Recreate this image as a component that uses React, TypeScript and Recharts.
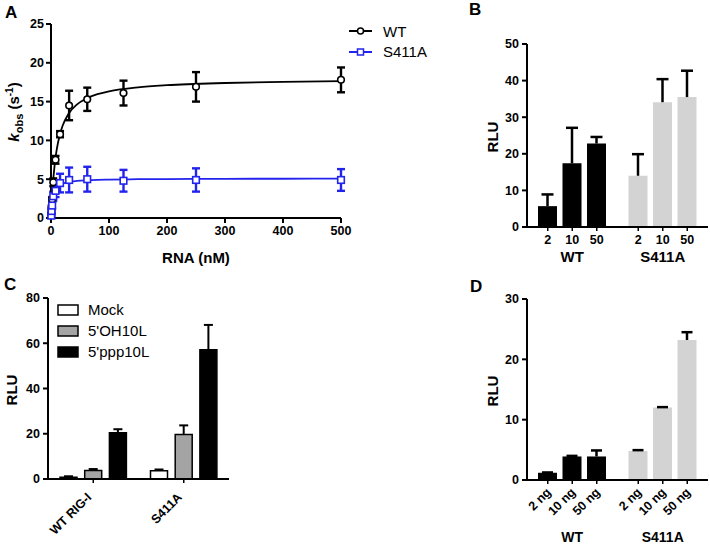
import React from "react"
import { Bar, BarChart, Cell, ComposedChart, ErrorBar, Legend, Line, Scatter, XAxis, YAxis } from "recharts"

const FONT = "'Liberation Sans', Arial, Helvetica, sans-serif"
const BLUE = "#2323ee"

// A: k_obs vs RNA concentration
const rnaConc = [0.49, 0.98, 1.95, 3.9, 7.8, 15.6, 31.25, 62.5, 125, 250, 500]
const kobsWT = [0.5, 1.3, 2.4, 4.6, 7.5, 10.8, 14.5, 15.3, 16.1, 16.9, 17.8]
const kobsWTErr = [0.2, 0.3, 0.3, 0.5, 0.5, 0.4, 1.9, 1.5, 1.6, 1.9, 1.6]
const kobsS411A = [0.3, 0.9, 1.6, 2.8, 3.5, 4.5, 4.9, 5.0, 4.8, 4.9, 4.9]
const kobsS411AErr = [0.2, 0.3, 0.4, 0.6, 0.8, 1.2, 1.6, 1.6, 1.4, 1.5, 1.4]
// fitted hyperbolas
const fitConc = [0, 2, 4, 6, 8, 10, 15, 20, 30, 45, 60, 80, 100, 150, 200, 300, 400, 500]
const fitWT = [0, 2.93, 5.03, 6.63, 7.87, 8.87, 10.67, 11.88, 13.4, 14.65, 15.36, 15.95, 16.32, 16.84, 17.12, 17.4, 17.55, 17.64]
const fitS411A = [0, 2.04, 2.91, 3.4, 3.71, 3.92, 4.25, 4.43, 4.64, 4.78, 4.86, 4.92, 4.95, 5.0, 5.02, 5.05, 5.06, 5.07]

// B: RLU by dose
const bDoses = ["2", "10", "50"]
const bGroups = ["WT", "S411A"]
const bWT = [5.7, 17.4, 22.8]
const bWTErr = [3.2, 9.7, 1.8]
const bS411A = [14.0, 34.1, 35.5]
const bS411AErr = [5.9, 6.3, 7.2]

// C: RLU by RNA ligand
const cGroups = ["WT RIG-I", "S411A"]
const cTreatments = ["Mock", "5'OH10L", "5'ppp10L"]
const cMock = [0.8, 3.7]
const cMockErr = [0.4, 0.5]
const cOH = [3.8, 19.7]
const cOHErr = [0.6, 4.0]
const cPPP = [20.4, 57.1]
const cPPPErr = [1.6, 11.0]

// D: RLU by plasmid amount
const dDoses = ["2 ng", "10 ng", "50 ng"]
const dGroups = ["WT", "S411A"]
const dWT = [1.2, 3.9, 3.9]
const dWTErr = [0.05, 0.1, 1.0]
const dS411A = [4.8, 12.0, 23.2]
const dS411AErr = [0.15, 0.08, 1.3]

const groupColors = ["#000000", "#d3d3d3"]
const cColors = ["#ffffff", "#a4a4a4", "#000000"]

const tickStyle = { fill: "#000", fontSize: 12.5, fontWeight: "bold", fontFamily: FONT }
const axisProps = { stroke: "#000", strokeWidth: 2 }

const BAR_W = 19
const BAR_GAP = 5.5

function buildRows(groups: string[], vals: number[][], errs: number[][]) {
  return groups.map((g, gi) => {
    const row: any = { g }
    vals[gi].forEach((v, i) => {
      row["v" + i] = v
      row["e" + i] = [0, errs[gi][i]]
    })
    return row
  })
}

const dataA_WT = rnaConc.map((x, i) => ({ x, y: kobsWT[i], e: kobsWTErr[i] }))
const dataA_S = rnaConc.map((x, i) => ({ x, y: kobsS411A[i], e: kobsS411AErr[i] }))
const fitA_WT = fitConc.map((x, i) => ({ x, y: fitWT[i] }))
const fitA_S = fitConc.map((x, i) => ({ x, y: fitS411A[i] }))

const dataB = buildRows(bGroups, [bWT, bS411A], [bWTErr, bS411AErr])
const dataC = cGroups.map((g, i) => ({
  g,
  v0: cMock[i], e0: [0, cMockErr[i]],
  v1: cOH[i], e1: [0, cOHErr[i]],
  v2: cPPP[i], e2: [0, cPPPErr[i]],
}))
const dataD = buildRows(dGroups, [dWT, dS411A], [dWTErr, dS411AErr])

const OpenCircle = (p: any) => (
  <circle cx={p.cx} cy={p.cy} r={3.3} fill="#fff" stroke="#000" strokeWidth={1.6} />
)
const OpenSquare = (p: any) => (
  <rect x={p.cx - 3.3} y={p.cy - 3.3} width={6.6} height={6.6} fill="#fff" stroke={BLUE} strokeWidth={1.6} />
)

const legendA = () => (
  <div style={{ fontFamily: FONT, fontSize: 15, color: "#000" }}>
    {[
      { name: "WT", color: "#000", square: false },
      { name: "S411A", color: BLUE, square: true },
    ].map((s) => (
      <div key={s.name} style={{ display: "flex", alignItems: "center", height: 20.6 }}>
        <svg width={26} height={12}>
          <line x1={1} y1={6} x2={24} y2={6} stroke={s.color} strokeWidth={2} />
          {s.square ? (
            <rect x={9.5} y={3} width={6} height={6} fill="#fff" stroke={s.color} strokeWidth={1.5} />
          ) : (
            <circle cx={12.5} cy={6} r={3} fill="#fff" stroke={s.color} strokeWidth={1.5} />
          )}
        </svg>
        <span style={{ marginLeft: 9 }}>{s.name}</span>
      </div>
    ))}
  </div>
)

const legendC = () => (
  <div style={{ fontFamily: FONT, fontSize: 15, color: "#000" }}>
    {cTreatments.map((t, i) => (
      <div key={t} style={{ display: "flex", alignItems: "center", height: 21.2 }}>
        <svg width={22} height={12}>
          <rect x={1} y={1} width={20} height={10} fill={cColors[i]} stroke="#000" strokeWidth={1.5} />
        </svg>
        <span style={{ marginLeft: 9 }}>{t}</span>
      </div>
    ))}
  </div>
)

const DoseTickB = ({ x, y, payload }: any) => (
  <g>
    {bDoses.map((d, i) => {
      const cx = x + (i - 1) * (BAR_W + BAR_GAP)
      return (
        <g key={d}>
          <line x1={cx} x2={cx} y1={y} y2={y + 4} stroke="#000" strokeWidth={1.5} />
          <text x={cx} y={y + 17} textAnchor="middle" style={tickStyle}>{d}</text>
        </g>
      )
    })}
    <text x={x} y={y + 35} textAnchor="middle" style={{ ...tickStyle, fontSize: 15 }}>{payload.value}</text>
  </g>
)

const DoseTickD = ({ x, y, payload }: any) => (
  <g>
    {dDoses.map((d, i) => {
      const cx = x + (i - 1) * (BAR_W + BAR_GAP)
      return (
        <g key={d}>
          <line x1={cx} x2={cx} y1={y} y2={y + 4} stroke="#000" strokeWidth={1.5} />
          <text x={cx + 4} y={y + 13} transform={`rotate(-45, ${cx + 4}, ${y + 13})`} textAnchor="end" style={tickStyle}>{d}</text>
        </g>
      )
    })}
    <text x={x} y={y + 62} textAnchor="middle" style={{ ...tickStyle, fontSize: 14 }}>{payload.value}</text>
  </g>
)

const GroupTickC = ({ x, y, payload }: any) => (
  <g>
    <line x1={x} x2={x} y1={y} y2={y + 4} stroke="#000" strokeWidth={1.5} />
    <text x={x - 1} y={y + 19} transform={`rotate(-45, ${x - 1}, ${y + 19})`} textAnchor="end" style={tickStyle}>{payload.value}</text>
  </g>
)

const box = (left: number, top: number): React.CSSProperties => ({ position: "absolute", left, top })

export default function App() {
  const titleStyle = { fontFamily: FONT, fontWeight: "bold", fill: "#000" } as any
  return (
    <div style={{ position: "absolute", left: 0, top: 0, width: 710, height: 545, background: "#fff", fontFamily: FONT }}>
      <style>{".one-sided .recharts-errorBar line:nth-of-type(3){display:none}"}</style>

      {/* A */}
      <div style={box(0, 0)}>
        <ComposedChart width={440} height={270} margin={{ top: 24, right: 99, bottom: 22, left: 0 }}>
          <XAxis type="number" dataKey="x" domain={[0, 500]} ticks={[0, 100, 200, 300, 400, 500]} height={30}
            tick={tickStyle} tickSize={5} tickMargin={3} axisLine={axisProps} tickLine={axisProps} />
          <YAxis type="number" dataKey="y" domain={[0, 25]} ticks={[0, 5, 10, 15, 20, 25]} width={51}
            tick={tickStyle} tickSize={5} tickMargin={2} axisLine={axisProps} tickLine={axisProps} />
          <Line data={fitA_WT} dataKey="y" type="monotone" stroke="#000" strokeWidth={1.8} dot={false} activeDot={false} isAnimationActive={false} />
          <Line data={fitA_S} dataKey="y" type="monotone" stroke={BLUE} strokeWidth={1.8} dot={false} activeDot={false} isAnimationActive={false} />
          <Scatter data={dataA_WT} dataKey="y" shape={OpenCircle} isAnimationActive={false}>
            <ErrorBar dataKey="e" direction="y" width={4} stroke="#000" strokeWidth={2.4} />
          </Scatter>
          <Scatter data={dataA_S} dataKey="y" shape={OpenSquare} isAnimationActive={false}>
            <ErrorBar dataKey="e" direction="y" width={4} stroke={BLUE} strokeWidth={2.4} />
          </Scatter>
          <Legend content={legendA} layout="vertical" align="center" verticalAlign="middle" wrapperStyle={{ left: 348, top: 21 }} />
        </ComposedChart>
      </div>

      {/* B */}
      <div style={box(440, 0)} className="one-sided">
        <BarChart width={270} height={270} data={dataB} margin={{ top: 44, right: 2, bottom: 0, left: 0 }} barGap={BAR_GAP}>
          <XAxis dataKey="g" height={43} tick={<DoseTickB />} tickSize={0} tickMargin={0} tickLine={false} axisLine={axisProps} interval={0} />
          <YAxis domain={[0, 50]} ticks={[0, 10, 20, 30, 40, 50]} width={87}
            tick={tickStyle} tickSize={5} tickMargin={3} axisLine={axisProps} tickLine={axisProps} />
          {bDoses.map((d, i) => (
            <Bar key={d} dataKey={"v" + i} barSize={BAR_W} isAnimationActive={false}>
              {bGroups.map((g, gi) => <Cell key={g} fill={groupColors[gi]} />)}
              <ErrorBar dataKey={"e" + i} direction="y" width={6} stroke="#000" strokeWidth={2.5} />
            </Bar>
          ))}
        </BarChart>
      </div>

      {/* C */}
      <div style={box(0, 270)} className="one-sided">
        <BarChart width={240} height={275} data={dataC} margin={{ top: 28, right: 11, bottom: 0, left: 0 }} barGap={7.7}>
          <XAxis dataKey="g" height={66} tick={<GroupTickC />} tickSize={0} tickMargin={0} tickLine={false} axisLine={axisProps} interval={0} />
          <YAxis domain={[0, 80]} ticks={[0, 20, 40, 60, 80]} width={48}
            tick={tickStyle} tickSize={5} tickMargin={3} axisLine={axisProps} tickLine={axisProps} />
          {cTreatments.map((t, i) => (
            <Bar key={t} name={t} dataKey={"v" + i} barSize={17} fill={cColors[i]} stroke="#000" strokeWidth={1.5} isAnimationActive={false}>
              <ErrorBar dataKey={"e" + i} direction="y" width={4.5} stroke="#000" strokeWidth={2} />
            </Bar>
          ))}
          <Legend content={legendC} layout="vertical" align="center" verticalAlign="middle" wrapperStyle={{ left: 57, top: 29 }} />
        </BarChart>
      </div>

      {/* D */}
      <div style={box(440, 270)} className="one-sided">
        <BarChart width={270} height={275} data={dataD} margin={{ top: 29, right: 2, bottom: 0, left: 0 }} barGap={BAR_GAP}>
          <XAxis dataKey="g" height={65} tick={<DoseTickD />} tickSize={0} tickMargin={0} tickLine={false} axisLine={axisProps} interval={0} />
          <YAxis domain={[0, 30]} ticks={[0, 10, 20, 30]} width={87}
            tick={tickStyle} tickSize={5} tickMargin={3} axisLine={axisProps} tickLine={axisProps} />
          {dDoses.map((d, i) => (
            <Bar key={d} dataKey={"v" + i} barSize={BAR_W} isAnimationActive={false}>
              {dGroups.map((g, gi) => <Cell key={g} fill={groupColors[gi]} />)}
              <ErrorBar dataKey={"e" + i} direction="y" width={5.5} stroke="#000" strokeWidth={2.5} />
            </Bar>
          ))}
        </BarChart>
      </div>

      {/* panel letters and axis titles */}
      <svg width={710} height={545} style={{ position: "absolute", left: 0, top: 0, pointerEvents: "none" }}>
        <text x={5} y={18} fontSize={17} style={titleStyle}>A</text>
        <text x={469} y={15} fontSize={17} style={titleStyle}>B</text>
        <text x={4} y={290} fontSize={17} style={titleStyle}>C</text>
        <text x={470} y={292} fontSize={17} style={titleStyle}>D</text>
        <text transform="translate(19,112) rotate(-90)" textAnchor="middle" fontSize={15} style={titleStyle}>
          <tspan fontStyle="italic">k</tspan>
          <tspan fontSize={11} dy={4}>obs</tspan>
          <tspan dy={-4}> (s</tspan>
          <tspan fontSize={10} dy={-6}>-1</tspan>
          <tspan dy={6}>)</tspan>
        </text>
        <text x={196} y={263} textAnchor="middle" fontSize={15} style={titleStyle}>RNA (nM)</text>
        <text transform="translate(498,137) rotate(-90)" textAnchor="middle" fontSize={15} style={titleStyle}>RLU</text>
        <text transform="translate(17,390) rotate(-90)" textAnchor="middle" fontSize={15} style={titleStyle}>RLU</text>
        <text transform="translate(498,391) rotate(-90)" textAnchor="middle" fontSize={15} style={titleStyle}>RLU</text>
      </svg>
    </div>
  )
}
